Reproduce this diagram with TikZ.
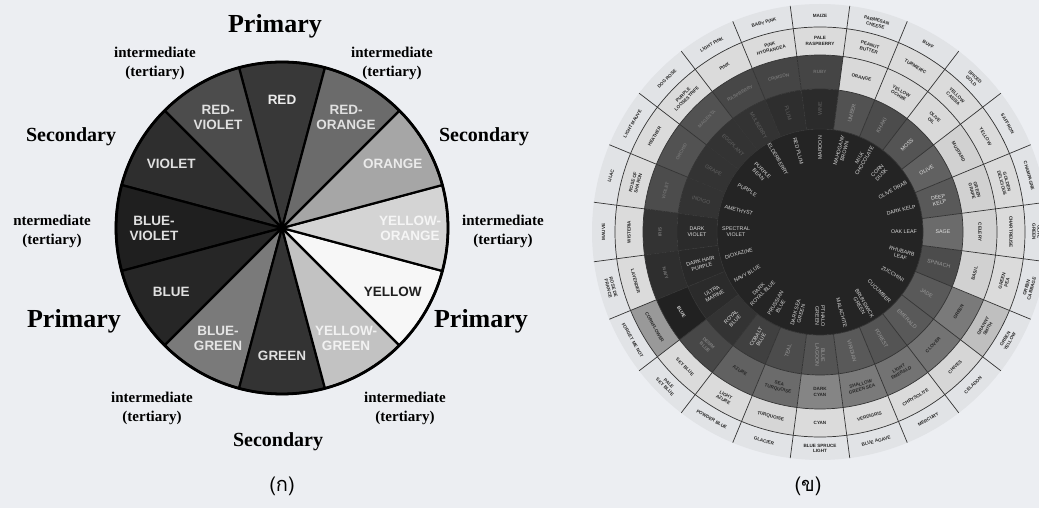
\documentclass[tikz,border=0pt]{standalone}
\usepackage{fontspec}
\setmainfont{Liberation Serif}
\setsansfont{Liberation Sans}
\newfontfamily\thaifont[Script=Thai]{Loma}
\usetikzlibrary{positioning}

\definecolor{sfondo}{RGB}{236,238,242}
\definecolor{anelloest}{RGB}{225,227,230}

% spicchio di corona: colore, angolo centrale, raggio interno, raggio esterno
\newcommand{\spicchio}[4]{\fill[#1] (#2-7.5:#3) arc[start angle=#2-7.5, end angle=#2+7.5, radius=#3] -- (#2+7.5:#4) arc[start angle=#2+7.5, end angle=#2-7.5, radius=#4] -- cycle;}

\tikzset{
  titolo/.style={font=\bfseries\fontsize{26}{28}\selectfont, anchor=base},
  secondario/.style={font=\bfseries\fontsize{20}{22}\selectfont, anchor=base},
  terziario/.style={font=\bfseries\fontsize{15}{19}\selectfont, align=center},
  settore/.style={font=\sffamily\bfseries\fontsize{13.5}{15}\selectfont, align=center, inner sep=0pt},
  anello/.style={font=\sffamily\fontsize{5.3}{5.8}\selectfont, align=center, inner sep=0pt},
  anellob/.style={font=\sffamily\bfseries\fontsize{4.6}{5.3}\selectfont, align=center, inner sep=0pt},
  sottile/.style={draw=black!80, line width=0.7pt},
  didascalia/.style={font=\thaifont\fontsize{20}{22}\selectfont},
}

\begin{document}
\begin{tikzpicture}[x=1pt,y=1pt]
\useasboundingbox[fill=sfondo] (0,0) rectangle (1039,508);

% Ruota (ก)
\begin{scope}[shift={(282,280)}]
  \coordinate (cA) at (0,0);
  \foreach \a/\g/\tc/\t [count=\i] in {90/78/8/RED, 120/70/12/RED-\\VIOLET, 150/82/12/VIOLET,
      180/88/12/BLUE-\\VIOLET, 210/85/12/BLUE, 240/52/10/BLUE-\\GREEN, 270/80/12/GREEN,
      300/24/5/YELLOW-\\GREEN, 330/3/88/YELLOW, 0/17/4/YELLOW-\\ORANGE, 30/35/8/ORANGE,
      60/58/12/RED-\\ORANGE}
  {
    \filldraw[fill=black!\g, draw=black, line width=2.2pt, line join=round]
      (cA) -- (\a-15:166) arc[start angle=\a-15, end angle=\a+15, radius=166] -- cycle;
    \node[settore, text=black!\tc] (sA\i) at (\a:128) {\t};
  }
  \draw[line width=2.8pt] (cA) circle (166);
\end{scope}

% Etichette
\node[titolo] (p1) at (275,475) {Primary};
\node[terziario] (t1) at (155,445) {intermediate\\(tertiary)};
\node[terziario] (t2) at (392,445) {intermediate\\(tertiary)};
\node[secondario] (s1) at (71,366) {Secondary};
\node[secondario] (s2) at (484,366) {Secondary};
\node[terziario] (t3) at (52,277) {ntermediate\\(tertiary)};
\node[terziario] (t4) at (503,277) {intermediate\\(tertiary)};
\node[titolo] (p2) at (74,180) {Primary};
\node[titolo] (p3) at (481,180) {Primary};
\node[terziario] (t5) at (152,100) {intermediate\\(tertiary)};
\node[terziario] (t6) at (405,100) {intermediate\\(tertiary)};
\node[secondario] (s3) at (278,61) {Secondary};
\node[didascalia] (ca) at (282,22) {(ก)};
\node[didascalia] (cb) at (808,22) {(ข)};

% Ruota (ข)
\begin{scope}
\clip (0,0) rectangle (1039,508);
\begin{scope}[shift={(820,276)}]
  \coordinate (cB) at (0,0);
  \fill[anelloest] (cB) circle (228);
  % anello 3
  \foreach \a/\g/\t [count=\i] in {0/14/CHARTREUSE, 15/14/GOLDEN\\DELICIOUS, 30/14/YELLOW,
      45/14/YELLOW\\CASSIA, 60/14/TURMERIC, 75/14/PEANUT\\BUTTER, 90/14/PALE\\RASPBERRY,
      105/14/PINK\\HYDRANGEA, 120/14/PINK, 135/14/PURPLE\\LOOSESTRIFE, 150/14/HEATHER,
      165/14/ROSE OF\\SHARON, 180/14/WISTERIA, 195/14/LAVENDER, 210/40/CORNFLOWER,
      225/14/SKY BLUE, 240/14/LIGHT\\AZURE, 255/16/TURQUOISE, 270/14/CYAN, 285/14/VERDIGRIS,
      300/14/CHRYSOLITE, 315/16/CHIVES, 330/25/GRANNY\\SMITH, 345/14/GREEN\\PEA}
  {
    \spicchio{black!\g}{\a}{177}{205}
    \pgfmathsetmacro\rot{sin(\a)>-0.001 ? \a-90 : \a+90}
    \node[anellob, text=black!85, rotate=\rot] (r3n\i) at (\a:191) {\t};
  }
  % anello 2
  \foreach \a/\g/\tc/\t [count=\i] in {0/18/85/CELERY, 15/18/85/GREEN\\GRAPE, 30/18/85/MUSTARD,
      45/15/85/OLIVE\\OIL, 60/15/85/YELLOW\\OCHRE, 75/15/85/ORANGE, 90/73/55/RUBY,
      105/73/55/CRIMSON, 120/72/55/RASPBERRY, 135/68/55/MAGENTA, 150/68/55/ORCHID,
      165/70/55/VIOLET, 180/80/55/IRIS, 195/82/55/NAVY, 210/87/15/BLUE, 225/72/50/DENIM\\BLUE,
      240/62/85/AZURE, 255/58/85/SEA\\TURQUOISE, 270/48/85/DARK\\CYAN,
      285/52/85/SHALLOW\\GREEN SEA, 300/55/85/LIGHT\\EMERALD, 315/55/85/CLOVER,
      330/52/85/GREEN, 345/18/85/BASIL}
  {
    \spicchio{black!\g}{\a}{143}{177}
    \pgfmathsetmacro\rot{sin(\a)>-0.001 ? \a-90 : \a+90}
    \node[anellob, text=black!\tc, rotate=\rot] (r2n\i) at (\a:160) {\t};
  }
  % anello 1
  \foreach \a/\g/\tc/\t [count=\i] in {0/58/10/SAGE, 15/65/10/DEEP\\KELP, 30/62/10/OLIVE,
      45/67/12/MOSS, 60/70/40/KHAKI, 75/68/40/UMBER, 90/83/62/WINE, 105/82/62/PLUM,
      120/80/62/MULBERRY, 135/80/62/EGGPLANT, 150/80/62/GRAPE, 165/80/62/INDIGO,
      180/83/12/DARK\\VIOLET, 195/84/12/DARK HAIR\\PURPLE, 210/83/12/ULTRA\\MARINE,
      225/80/12/ROYAL\\BLUE, 240/75/12/COBALT\\BLUE, 255/70/40/TEAL, 270/67/40/BLUE\\LAGOON,
      285/65/40/VIRIDIAN, 300/67/40/FOREST, 315/65/40/EMERALD, 330/65/40/JADE,
      345/70/40/SPINACH}
  {
    \spicchio{black!\g}{\a}{103}{143}
    \pgfmathsetmacro\rot{cos(\a)>-0.001 ? \a : \a-180}
    \node[anello, text=black!\tc, rotate=\rot] (r1n\i) at (\a:123) {\t};
  }
  % centro scuro
  \fill[black!86] (cB) circle (103);
  % linee
  \draw[sottile] (cB) circle (103) circle (143) circle (177) circle (205);
  \foreach \b in {7.5,22.5,...,352.5}
    \draw[sottile] (\b:103) -- (\b:228);
  % anello interno
  \foreach \a/\t [count=\i] in {0/OAK LEAF, 15/DARK KELP, 30/OLIVE DRAB, 45/CORN\\DUSK,
      60/MILK\\CHOCOLATE, 75/MAHOGANY\\BROWN, 90/MAROON, 105/RED PLUM, 120/ELDERBERRY,
      135/PURPLE\\BEAN, 150/PURPLE, 165/AMETHYST, 180/SPECTRAL\\VIOLET, 195/DIOXAZINE,
      210/NAVY BLUE, 225/DARK\\ROYAL BLUE, 240/PRUSSIAN\\BLUE, 255/DARK SEA\\GREEN,
      270/PTHALO\\GREEN, 285/MALACHITE, 300/BRUNSWICK\\GREEN, 315/CUCUMBER,
      330/ZUCCHINI, 345/RHUBARB\\LEAF}
  {
    \pgfmathsetmacro\rot{cos(\a)>-0.001 ? \a : \a-180}
    \node[anello, text=black!15, rotate=\rot] (r0n\i) at (\a:84) {\t};
  }
  % anello esterno
  \foreach \a/\t [count=\i] in {0/OLIVE\\GREEN, 15/CHAMPAGNE, 30/SAFFRON, 45/SPICED\\GOLD,
      60/BUFF, 75/PARMESAN\\CHEESE, 90/MAIZE, 105/BABY PINK, 120/LIGHT PINK, 135/DOG ROSE,
      150/LIGHT MAUVE, 165/LILAC, 180/MAUVE, 195/ROSE DE\\FRANCE, 210/FORGET ME NOT,
      225/PALE\\SKY BLUE, 240/POWDER BLUE, 255/GLACIER, 270/BLUE SPRUCE\\LIGHT,
      285/BLUE AGAVE, 300/MERCURY, 315/CELADON, 330/GREEN\\YELLOW, 345/GREEN\\CABBAGE}
  {
    \pgfmathsetmacro\rot{sin(\a)>-0.001 ? \a-90 : \a+90}
    \node[anellob, text=black!85, rotate=\rot] (r4n\i) at (\a:216.5) {\t};
  }
\end{scope}
\end{scope}
\end{tikzpicture}
\end{document}
